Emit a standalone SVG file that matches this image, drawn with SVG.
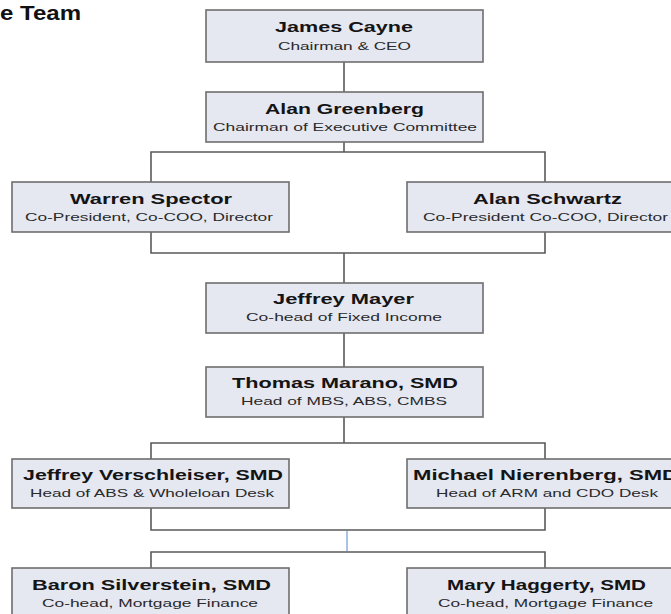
<svg xmlns="http://www.w3.org/2000/svg" width="671" height="614" viewBox="0 0 671 614">
<style>
.box{fill:#e5e7f1;stroke:#6e6e6e;stroke-width:1.6}
.nm{font-family:"Liberation Sans",Arial,sans-serif;font-weight:bold;font-size:15px;fill:#141414}
.sub{font-family:"Liberation Sans",Arial,sans-serif;font-size:11.5px;fill:#2a2a2a}
.ttl{font-family:"Liberation Sans",Arial,sans-serif;font-weight:bold;font-size:20px;fill:#111}
.ln{fill:none;stroke:#5a5a5a;stroke-width:1.6}
.blue{fill:none;stroke:#a9c3e3;stroke-width:2}
</style>
<rect x="0" y="0" width="671" height="614" fill="#ffffff"/>
<text class="ttl" x="0" y="20" textLength="81" lengthAdjust="spacingAndGlyphs">e Team</text>

<g id="connectors">
<path class="ln" d="M344,62 V92"/>
<path class="ln" d="M344,142 V152 M151,182 V152 H545 V182"/>
<path class="ln" d="M151,232 V253 H545 V232 M344,253 V283"/>
<path class="ln" d="M344,333 V367"/>
<path class="ln" d="M344,417 V443 M151,459 V443 H545 V459"/>
<path class="ln" d="M151,508 V530 H545 V508"/>
<path class="blue" d="M347,531 V551"/>
<path class="ln" d="M151,568 V552 H545 V568"/>
</g>

<g id="james-cayne">
<rect class="box" x="206" y="10" width="277" height="52"/>
<text class="nm" x="275" y="32" textLength="138" lengthAdjust="spacingAndGlyphs">James Cayne</text>
<text class="sub" x="278" y="50" textLength="133" lengthAdjust="spacingAndGlyphs">Chairman &amp; CEO</text>
</g>

<g id="alan-greenberg">
<rect class="box" x="206" y="92" width="277" height="50"/>
<text class="nm" x="265" y="114" textLength="159" lengthAdjust="spacingAndGlyphs">Alan Greenberg</text>
<text class="sub" x="213" y="131" textLength="264" lengthAdjust="spacingAndGlyphs">Chairman of Executive Committee</text>
</g>

<g id="warren-spector">
<rect class="box" x="12" y="182" width="277" height="50"/>
<text class="nm" x="70" y="204" textLength="162" lengthAdjust="spacingAndGlyphs">Warren Spector</text>
<text class="sub" x="25" y="221" textLength="248" lengthAdjust="spacingAndGlyphs">Co-President, Co-COO, Director</text>
</g>

<g id="alan-schwartz">
<rect class="box" x="407" y="182" width="277" height="50"/>
<text class="nm" x="473" y="204" textLength="149" lengthAdjust="spacingAndGlyphs">Alan Schwartz</text>
<text class="sub" x="423" y="221" textLength="245" lengthAdjust="spacingAndGlyphs">Co-President Co-COO, Director</text>
</g>

<g id="jeffrey-mayer">
<rect class="box" x="206" y="283" width="277" height="50"/>
<text class="nm" x="273" y="304" textLength="141" lengthAdjust="spacingAndGlyphs">Jeffrey Mayer</text>
<text class="sub" x="246" y="321" textLength="196" lengthAdjust="spacingAndGlyphs">Co-head of Fixed Income</text>
</g>

<g id="thomas-marano">
<rect class="box" x="206" y="367" width="277" height="50"/>
<text class="nm" x="232" y="388" textLength="226" lengthAdjust="spacingAndGlyphs">Thomas Marano, SMD</text>
<text class="sub" x="241" y="405" textLength="206" lengthAdjust="spacingAndGlyphs">Head of MBS, ABS, CMBS</text>
</g>

<g id="jeffrey-verschleiser">
<rect class="box" x="12" y="459" width="277" height="49"/>
<text class="nm" x="23" y="480" textLength="260" lengthAdjust="spacingAndGlyphs">Jeffrey Verschleiser, SMD</text>
<text class="sub" x="30" y="497" textLength="244" lengthAdjust="spacingAndGlyphs">Head of ABS &amp; Wholeloan Desk</text>
</g>

<g id="michael-nierenberg">
<rect class="box" x="407" y="459" width="277" height="49"/>
<text class="nm" x="413" y="480" textLength="265" lengthAdjust="spacingAndGlyphs">Michael Nierenberg, SMD</text>
<text class="sub" x="436" y="497" textLength="222" lengthAdjust="spacingAndGlyphs">Head of ARM and CDO Desk</text>
</g>

<g id="baron-silverstein">
<rect class="box" x="12" y="568" width="277" height="50"/>
<text class="nm" x="32" y="590" textLength="239" lengthAdjust="spacingAndGlyphs">Baron Silverstein, SMD</text>
<text class="sub" x="42" y="607" textLength="216" lengthAdjust="spacingAndGlyphs">Co-head, Mortgage Finance</text>
</g>

<g id="mary-haggerty">
<rect class="box" x="407" y="568" width="277" height="50"/>
<text class="nm" x="447" y="590" textLength="199" lengthAdjust="spacingAndGlyphs">Mary Haggerty, SMD</text>
<text class="sub" x="438" y="607" textLength="215" lengthAdjust="spacingAndGlyphs">Co-head, Mortgage Finance</text>
</g>
</svg>
